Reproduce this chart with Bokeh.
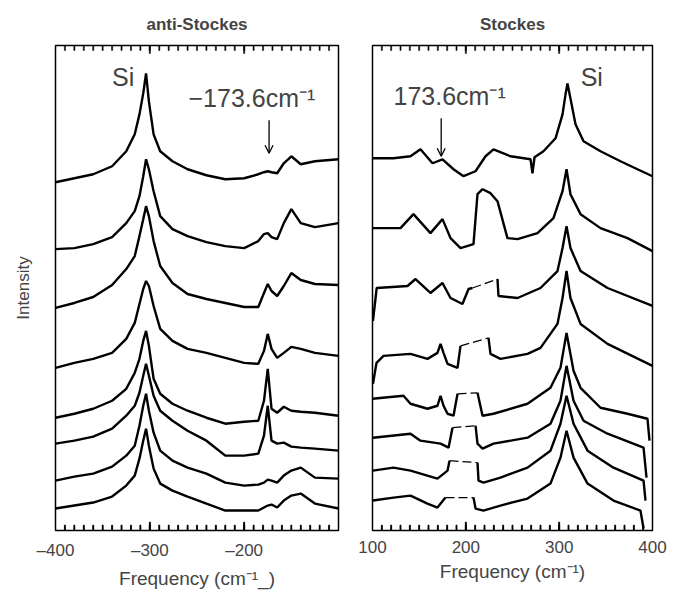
from bokeh.plotting import figure
from bokeh.layouts import row
from bokeh.models import FixedTicker, Label, Arrow, OpenHead, Range1d
from bokeh.embed import file_html
from bokeh.resources import INLINE

NAN = float("nan")
FONT = "Liberation Sans"

# ---------------- anti-Stokes spectra (left panel) ----------------
anti_freq = [-400, -380, -360, -340, -325, -316, -311, -307, -304, -301, -296, -289, -276,
             -260, -240, -220, -200, -185, -179, -175, -171, -165, -158, -150, -140, -125, -100]
anti_1 = [349, 353, 357, 365, 380, 397, 417, 438, 458, 430, 397, 380, 370, 362, 356, 352, 353, 357, 359, 360, 359, 358, 368, 375, 367, 370, 372]
anti_2 = [282, 283, 287, 294, 308, 320, 335, 355, 372, 362, 340, 315, 302, 295, 289, 285, 283, 290, 297, 298, 294, 292, 308, 322, 308, 304, 308]
anti_3 = [223, 228, 234, 246, 262, 275, 295, 312, 325, 315, 290, 265, 248, 237, 232, 228, 224, 224, 238, 247, 240, 235, 245, 258, 251, 247, 246]
anti_4 = [163, 168, 172, 178, 192, 208, 227, 242, 250, 245, 225, 202, 190, 182, 178, 173, 168, 167, 180, 197, 182, 173, 178, 184, 182, 178, 175]
anti_5 = [113, 117, 122, 130, 142, 158, 172, 190, 200, 185, 152, 137, 127, 120, 113, 107, 109, 110, 130, 162, 122, 118, 124, 120, 119, 118, 115]
anti_6 = [87, 90, 94, 102, 115, 125, 138, 155, 167, 155, 135, 120, 110, 100, 90, 75, 75, 77, 95, 125, 90, 87, 88, 84, 83, 82, 80]
anti_7 = [50, 54, 57, 64, 75, 85, 105, 125, 137, 120, 98, 80, 70, 63, 57, 48, 45, 46, 48, 51, 50, 48, 55, 60, 63, 53, 52]
anti_8 = [22, 25, 28, 34, 45, 55, 72, 90, 102, 85, 62, 47, 40, 34, 27, 20, 20, 20, 23, 25, 26, 23, 30, 35, 37, 27, 22]
anti_traces = [anti_1, anti_2, anti_3, anti_4, anti_5, anti_6, anti_7, anti_8]

# ---------------- Stokes spectra (right panel); NaN marks the filter gap ----------------
st1_f = [100, 122.5, 140.7, 151.4, 164.3, 175, 186.8, 197.5, 210.4, 221.1, 229.6, 247.9, 269.3, 271.4, 273.6,
         283.2, 296.1, 303.6, 306.8, 308.9, 312.1, 317.5, 326.1, 344.3, 365.7, 383.9, 400]
st1_i = [373, 373, 375, 382, 368, 372, 362, 355, 360, 375, 382, 375, 372, 358, 374,
         380, 393, 417, 437, 448, 433, 407, 390, 380, 370, 362, 355]
st2_f = [100, 130, 143.9, 162.1, 175, 183.6, 194.3, 208.2, 212.5, 217.9, 226.4, 233.9, 244.6, 255.4, 276.8,
         293.9, 303.6, 307.9, 312.1, 322.9, 344.3, 373.2, 400]
st2_i = [303, 303, 317, 298, 312, 293, 283, 287, 337, 342, 338, 330, 293, 292, 298,
         313, 340, 362, 337, 317, 303, 293, 280]
st3_f = [100.5, 104.5, 137.5, 146.1, 162.1, 175, 183.6, 196.4, 202.9, 207.1, NAN, 233.9, 235, 255.4, 280,
         298.2, 303.6, 307.9, 312.1, 322.9, 351.8, 400]
st3_i = [210, 243, 245, 252, 238, 248, 233, 227, 242, 243, NAN, 252, 235, 233, 243,
         260, 283, 305, 283, 260, 243, 225]
st4_f = [100.5, 104.3, 111.8, 140.7, 158.9, 169.6, 172.9, 176.1, 180.4, 191.1, 194.3, NAN, 224.3, 226.4, 237.1,
         266.1, 280, 298.2, 303.6, 307.9, 312.1, 322.9, 351.8, 400]
st4_i = [147, 168, 175, 177, 172, 178, 187, 178, 167, 163, 185, NAN, 193, 177, 172,
         177, 183, 207, 233, 260, 233, 207, 187, 165]
st5_f = [100, 133.2, 140.7, 158.9, 169.6, 172.9, 176.1, 180.4, 186.8, 191.1, NAN, 212.5, 217.9, 229.6, 266.1,
         290.7, 301.4, 307.9, 315.4, 322.9, 344.3, 373.2, 394.6, 396.8]
st5_i = [132, 135, 127, 122, 125, 135, 125, 117, 115, 137, NAN, 138, 115, 117, 127,
         143, 163, 198, 160, 143, 123, 117, 112, 90]
st6_f = [100.5, 140.7, 151.4, 172.9, 181.5, 185.7, NAN, 210.4, 212.5, 217.9, 229.6, 266.1, 290.7, 301.4,
         307.9, 315.4, 326.1, 351.8, 390.4, 393.6]
st6_i = [93, 97, 90, 87, 83, 103, NAN, 105, 87, 82, 87, 93, 107, 130,
         165, 130, 110, 97, 83, 53]
st7_f = [100.5, 122.5, 140.7, 169.6, 180.4, 182.5, NAN, 212.5, 213.6, 218.9, 237.1, 266.1, 290.7, 301.4,
         307.9, 315.4, 330.4, 358.2, 390.4, 392.5]
st7_i = [60, 63, 60, 52, 60, 70, NAN, 68, 50, 48, 53, 63, 80, 107,
         135, 107, 80, 63, 50, 30]
st8_f = [100.5, 122.5, 140.7, 158.9, 169.6, 178.2, NAN, 208.2, 210.4, 218.9, 237.1, 266.1, 290.7, 301.4,
         307.9, 315.4, 330.4, 358.2, 387.1, 390.4]
st8_i = [30, 33, 35, 27, 23, 33, NAN, 33, 22, 20, 25, 32, 47, 73,
         100, 73, 47, 30, 20, 2]
stokes_traces = [(st1_f, st1_i), (st2_f, st2_i), (st3_f, st3_i), (st4_f, st4_i),
                 (st5_f, st5_i), (st6_f, st6_i), (st7_f, st7_i), (st8_f, st8_i)]

# ---------------- ticks & annotations ----------------
anti_ticks = [-400, -300, -200]
anti_major_marks = [-300, -200]
anti_minor_marks = list(range(-390, -100, 10))
anti_tick_labels = {-400: "\u2013400", -300: "\u2013300", -200: "\u2013200"}
stokes_ticks = [100, 200, 300, 400]
stokes_major_marks = [200, 300]
stokes_minor_marks = list(range(110, 400, 10))
peak_freq = 173.6

Y_TOP = 486
MAJOR_LEN = 8
MINOR_LEN = 5
TICK_HALF_W = 0.6


def make_fig(xr, title, xlabel, ticks, overrides, show_y, major_marks, minor_marks):
    p = figure(x_range=Range1d(*xr), y_range=Range1d(0, Y_TOP),
               frame_width=283 if show_y else 280, frame_height=485,
               min_border_left=55 if show_y else 24, min_border_right=10 if show_y else 17,
               min_border_top=8, min_border_bottom=60,
               output_backend="svg", toolbar_location=None,
               y_axis_location="left" if show_y else None)
    p.title.text = title
    p.title.align = "center"
    p.title.text_font = FONT
    p.title.text_font_size = "17px"
    p.title.text_font_style = "bold"
    p.title.standoff = 24
    p.grid.visible = False
    p.outline_line_color = "black"
    p.outline_line_width = 1.5
    p.background_fill_color = "white"
    p.border_fill_color = "white"

    ax = p.xaxis[0]
    ax.ticker = FixedTicker(ticks=ticks)
    ax.major_label_overrides = overrides
    ax.major_label_text_font = FONT
    ax.major_label_text_font_size = "17px"
    ax.major_label_standoff = 10
    ax.major_tick_in = 0
    ax.major_tick_out = 0
    ax.major_tick_line_color = None
    ax.minor_tick_line_color = None
    ax.axis_line_color = None
    ax.axis_label = xlabel
    ax.axis_label_text_font = FONT
    ax.axis_label_text_font_size = "19px"
    ax.axis_label_text_font_style = "normal"
    ax.axis_label_standoff = 5

    if show_y:
        ya = p.yaxis[0]
        ya.ticker = FixedTicker(ticks=[])
        ya.major_label_text_color = None
        ya.major_tick_line_color = None
        ya.minor_tick_line_color = None
        ya.axis_line_color = None
        ya.axis_label = "Intensity"
        ya.axis_label_text_font = FONT
        ya.axis_label_text_font_size = "17px"
        ya.axis_label_text_font_style = "normal"
        ya.axis_label_standoff = 23

    # inward tick marks on the top and bottom edges of the frame
    for marks, ln in ((major_marks, MAJOR_LEN), (minor_marks, MINOR_LEN)):
        n = len(marks)
        left = [m - TICK_HALF_W for m in marks] * 2
        right = [m + TICK_HALF_W for m in marks] * 2
        bottom = [Y_TOP - ln] * n + [0.5] * n
        top = [Y_TOP] * n + [ln + 0.5] * n
        p.quad(left=left, right=right, bottom=bottom, top=top,
               fill_color="black", line_color="black", line_width=0.5, level="overlay")
        for m in marks:
            p.add_layout(Arrow(end=None, x_start=m, y_start=0, x_end=m, y_end=ln,
                               line_color="black", line_width=1.3))
    return p


p1 = make_fig((-400, -100), "anti-Stockes", "Frequency (cm\u207b\u00b9_)", anti_ticks,
              anti_tick_labels, True, anti_major_marks, anti_minor_marks)
for tr in anti_traces:
    p1.line(anti_freq, tr, line_color="black", line_width=2.4)

p2 = make_fig((100, 400), "Stockes", "Frequency (cm\u207b\u00b9)", stokes_ticks,
              {}, False, stokes_major_marks, stokes_minor_marks)
for f, i in stokes_traces:
    p2.line(f, i, line_color="black", line_width=2.4)
    for k, v in enumerate(f):
        if v != v:  # NaN -> thin broken line across the filter gap
            p2.line([f[k - 1], f[k + 1]], [i[k - 1], i[k + 1]], line_color="black",
                    line_width=1.2, line_dash="9 4")

# annotations
p1.add_layout(Label(x=-340, y=440, text="Si", text_font=FONT, text_font_size="25px"))
p1.add_layout(Label(x=-259, y=419, text="\u2212173.6cm\u207b\u00b9", text_font=FONT, text_font_size="25px"))
p1.add_layout(Arrow(end=OpenHead(size=8, line_width=1.3), x_start=-peak_freq, y_start=411,
                    x_end=-peak_freq, y_end=378, line_width=1.3))
p2.add_layout(Label(x=323, y=440, text="Si", text_font=FONT, text_font_size="25px"))
p2.add_layout(Label(x=122.5, y=421, text="173.6cm\u207b\u00b9", text_font=FONT, text_font_size="25px"))
p2.add_layout(Arrow(end=OpenHead(size=8, line_width=1.3), x_start=peak_freq, y_start=413,
                    x_end=peak_freq, y_end=375, line_width=1.3))

layout = row(p1, p2)
open("out.html", "w").write(file_html(layout, INLINE))
